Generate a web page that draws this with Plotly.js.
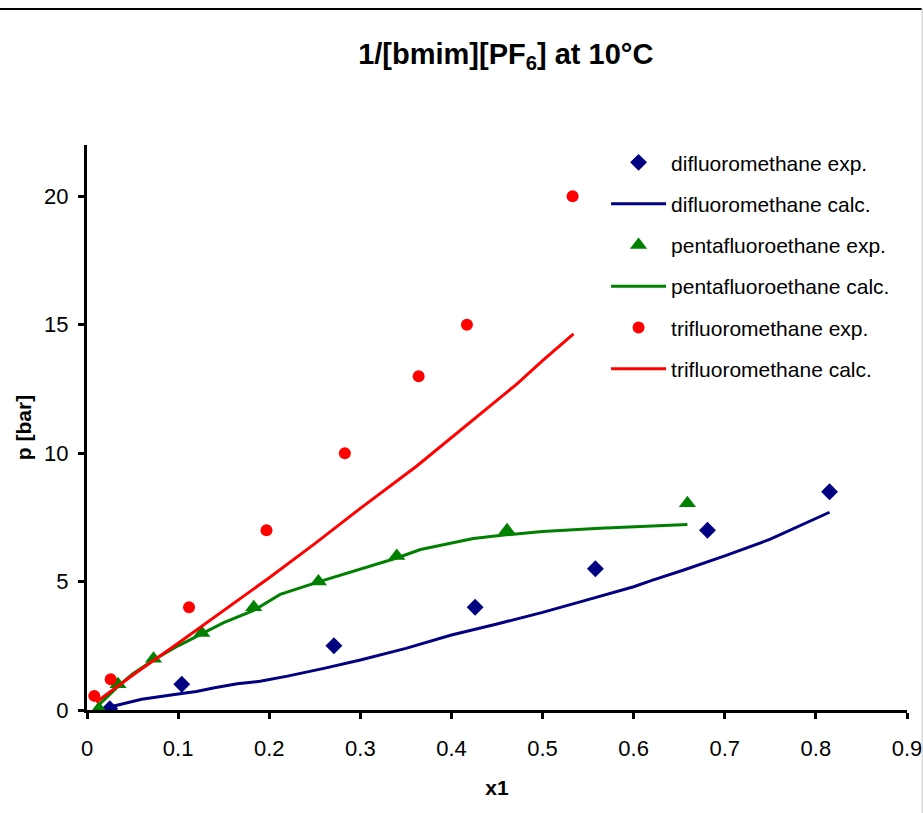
<!DOCTYPE html>
<html>
<head>
<meta charset="utf-8">
<script src="https://cdn.plot.ly/plotly-3.0.1.min.js"></script>
<style>html,body{margin:0;padding:0;background:#fff;}#chart{width:923px;height:813px;}</style>
</head>
<body>
<div id="chart"></div>
<script>
// difluoromethane
var dfmExpX = [0.025, 0.104, 0.271, 0.426, 0.558, 0.681, 0.815];
var dfmExpY = [0.05, 1.0, 2.5, 4.0, 5.5, 7.0, 8.5];
var dfmCalcX = [0.025, 0.06, 0.1, 0.12, 0.14, 0.165, 0.19, 0.22, 0.26, 0.3, 0.35, 0.4, 0.45, 0.5, 0.55, 0.6, 0.62, 0.655, 0.7, 0.75, 0.815];
var dfmCalcY = [0.12, 0.42, 0.62, 0.72, 0.87, 1.02, 1.12, 1.32, 1.62, 1.95, 2.4, 2.92, 3.35, 3.8, 4.3, 4.8, 5.05, 5.45, 6.0, 6.65, 7.7];
// pentafluoroethane
var pfeExpX = [0.013, 0.034, 0.073, 0.126, 0.183, 0.254, 0.34, 0.461, 0.659];
var pfeExpY = [0.05, 1.0, 2.0, 3.0, 4.0, 5.0, 6.0, 7.0, 8.05];
var pfeCalcX = [0.013, 0.035, 0.05, 0.073, 0.1, 0.126, 0.15, 0.183, 0.212, 0.255, 0.3, 0.34, 0.366, 0.4, 0.424, 0.46, 0.5, 0.563, 0.607, 0.659];
var pfeCalcY = [0.2, 0.95, 1.4, 1.95, 2.5, 2.98, 3.4, 3.88, 4.5, 5.0, 5.5, 5.92, 6.25, 6.5, 6.68, 6.82, 6.95, 7.08, 7.15, 7.22];
// trifluoromethane
var tfmExpX = [0.008, 0.026, 0.112, 0.197, 0.283, 0.364, 0.417, 0.533];
var tfmExpY = [0.55, 1.2, 4.0, 7.0, 10.0, 13.0, 15.0, 20.0];
var tfmCalcX = [0.01, 0.05, 0.1, 0.136, 0.2, 0.249, 0.3, 0.362, 0.4, 0.42, 0.472, 0.5, 0.534];
var tfmCalcY = [0.3, 1.35, 2.6, 3.52, 5.15, 6.45, 7.85, 9.5, 10.6, 11.2, 12.7, 13.6, 14.65];

var xTicks = [0, 0.1, 0.2, 0.3, 0.4, 0.5, 0.6, 0.7, 0.8, 0.9];
var xTickText = ['0', '0.1', '0.2', '0.3', '0.4', '0.5', '0.6', '0.7', '0.8', '0.9'];
var yTicks = [0, 5, 10, 15, 20];
var yTickText = ['0', '5', '10', '15', '20'];

var navy = '#000080', green = '#008000', red = '#FF0000';
var F = 'Liberation Sans, Arial, sans-serif';

var traces = [
  {x: dfmExpX, y: dfmExpY, mode: 'markers', name: 'difluoromethane exp.', legendgroup: 'a',
   marker: {symbol: 'diamond', size: 13, color: navy}},
  {x: dfmCalcX, y: dfmCalcY, mode: 'lines', name: 'difluoromethane calc.', legendgroup: 'b',
   line: {color: navy, width: 3}},
  {x: pfeExpX, y: pfeExpY, mode: 'markers', name: 'pentafluoroethane exp.', legendgroup: 'c',
   marker: {symbol: 'triangle-up', size: 15, color: green}},
  {x: pfeCalcX, y: pfeCalcY, mode: 'lines', name: 'pentafluoroethane calc.', legendgroup: 'd',
   line: {color: green, width: 3}},
  {x: tfmExpX, y: tfmExpY, mode: 'markers', name: 'trifluoromethane exp.', legendgroup: 'e',
   marker: {symbol: 'circle', size: 12, color: red}},
  {x: tfmCalcX, y: tfmCalcY, mode: 'lines', name: 'trifluoromethane calc.', legendgroup: 'f',
   line: {color: red, width: 3}}
];

var layout = {
  width: 923, height: 813,
  margin: {l: 87, r: 16, t: 145, b: 103},
  paper_bgcolor: '#fff', plot_bgcolor: '#fff',
  font: {family: F, size: 21, color: '#000'},
  title: {text: '<b>1/[bmim][PF<sub>6</sub>] at 10°C</b>', font: {family: F, size: 29, color: '#000'},
          x: 0.548, xanchor: 'center', y: 0.934, yanchor: 'middle'},
  xaxis: {range: [0, 0.9], tickvals: xTicks, ticktext: xTickText, showgrid: false, zeroline: false,
          showline: true, linecolor: '#000', linewidth: 3, ticks: 'outside', ticklen: 6, tickwidth: 3,
          tickcolor: '#000', tickfont: {family: F, size: 22}, ticklabelstandoff: 11,
          title: {text: '<b>x1</b>', font: {family: F, size: 21}, standoff: 20}},
  yaxis: {range: [0, 22], tickvals: yTicks, ticktext: yTickText, showgrid: false, zeroline: false,
          showline: true, linecolor: '#000', linewidth: 3, ticks: 'outside', ticklen: 6, tickwidth: 3,
          tickcolor: '#000', tickfont: {family: F, size: 22}, ticklabelstandoff: 5,
          title: {text: '<b>p [bar]</b>', font: {family: F, size: 21}, standoff: 7}},
  showlegend: true,
  legend: {x: 0.633, y: 1.005, xanchor: 'left', yanchor: 'top', bgcolor: 'rgba(0,0,0,0)',
           font: {family: F, size: 21}, tracegroupgap: 11, itemwidth: 55},
  shapes: [
    {type: 'line', xref: 'paper', yref: 'paper', x0: -0.11, x1: 1.018, y0: 1.2407, y1: 1.2407,
     line: {color: '#000', width: 2}},
    {type: 'line', xref: 'paper', yref: 'paper', x0: 1.019, x1: 1.019, y0: 1.2407, y1: -0.19,
     line: {color: '#d8d8d8', width: 2}}
  ]
};

Plotly.newPlot('chart', traces, layout, {displayModeBar: false, staticPlot: true});
</script>
</body>
</html>
